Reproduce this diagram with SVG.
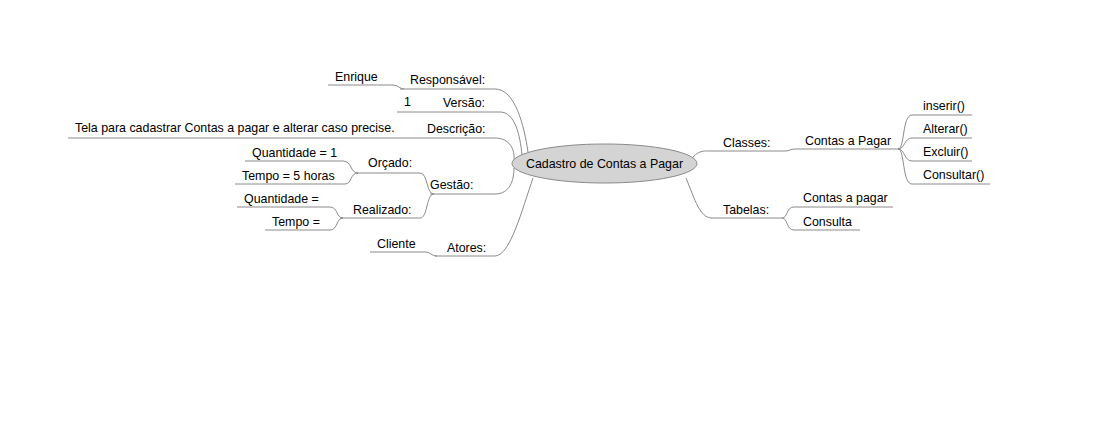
<svg xmlns="http://www.w3.org/2000/svg" width="1102" height="426" viewBox="0 0 1102 426">
<style>
text{font-family:"Liberation Sans",Arial,sans-serif;font-size:12.4px;fill:#000}
.c{fill:none;stroke:#8a8a8a;stroke-width:1}
</style>
<rect width="1102" height="426" fill="#fff"/>
<g id="connectors">
<path class="c" d="M400 89 L495 89 C515 89 524 125 528 152"/>
<path class="c" d="M437 112 L500 112 C515 112 520 135 522 155"/>
<path class="c" d="M68 138 L495 138 C510 138 515 150 514 160"/>
<path class="c" d="M430 194 L495 194 C510 194 514 180 514 168"/>
<path class="c" d="M435 256 L495 256 C510 256 522 210 533 178"/>
<path class="c" d="M328 85 L393 85 C398 85 400 89 404 89"/>
<path class="c" d="M397 112 L437 112"/>
<path class="c" d="M357 173 L420 173 C428 173 426 194 434 194"/>
<path class="c" d="M340 218 L420 218 C428 218 426 194 434 194"/>
<path class="c" d="M245 161 L343 161 C352 161 350 173 358 173"/>
<path class="c" d="M235 184 L345 184 C352 184 350 173 358 173"/>
<path class="c" d="M237 207 L330 207 C338 207 336 218 343 218"/>
<path class="c" d="M265 230 L330 230 C338 230 336 218 343 218"/>
<path class="c" d="M370 252 L425 252 C431 252 431 256 437 256"/>
<path class="c" d="M693 157 C700 150 704 151 712 151 L785 151 C790 151 790 149 795 149 L900 149"/>
<path class="c" d="M686 178 C695 200 700 218 712 218 L782 218"/>
<path class="c" d="M782 218 C788 218 786 207 794 207 L893 207"/>
<path class="c" d="M782 218 C788 218 786 230 794 230 L860 230"/>
<path class="c" d="M898 149 C905 149 902 115 912 115 L972 115"/>
<path class="c" d="M898 149 C905 149 904 138 912 138 L972 138"/>
<path class="c" d="M898 149 C905 149 904 161 912 161 L972 161"/>
<path class="c" d="M898 149 C905 149 902 184 912 184 L990 184"/>
</g>
<g id="root">
<ellipse cx="604.5" cy="163.5" rx="92.5" ry="19.5" fill="#d4d4d4" stroke="#8a8a8a" stroke-width="1"/>
<text x="604.5" y="168" text-anchor="middle">Cadastro de Contas a Pagar</text>
</g>
<g id="responsavel"><text x="410" y="84">Responsável:</text></g>
<g id="enrique"><text x="335" y="81">Enrique</text></g>
<g id="versao"><text x="443" y="107">Versão:</text></g>
<g id="v1"><text x="404" y="106">1</text></g>
<g id="descricao"><text x="427" y="133">Descrição:</text></g>
<g id="tela"><text x="75" y="132">Tela para cadastrar Contas a pagar e alterar caso precise.</text></g>
<g id="gestao"><text x="430" y="189">Gestão:</text></g>
<g id="orcado"><text x="368" y="167">Orçado:</text></g>
<g id="qtd1"><text x="252" y="157">Quantidade = 1</text></g>
<g id="tempo5"><text x="242" y="180">Tempo = 5 horas</text></g>
<g id="realizado"><text x="353" y="214">Realizado:</text></g>
<g id="qtd"><text x="244" y="203">Quantidade =</text></g>
<g id="tempo"><text x="272" y="226">Tempo =</text></g>
<g id="atores"><text x="447" y="252">Atores:</text></g>
<g id="cliente"><text x="377" y="248">Cliente</text></g>
<g id="classes"><text x="723" y="147">Classes:</text></g>
<g id="contasPagar"><text x="805" y="145">Contas a Pagar</text></g>
<g id="inserir"><text x="923" y="110">inserir()</text></g>
<g id="alterar"><text x="923" y="133">Alterar()</text></g>
<g id="excluir"><text x="923" y="156">Excluir()</text></g>
<g id="consultar"><text x="923" y="179">Consultar()</text></g>
<g id="tabelas"><text x="723" y="214">Tabelas:</text></g>
<g id="contasapagar"><text x="803" y="202">Contas a pagar</text></g>
<g id="consulta"><text x="803" y="226">Consulta</text></g>
</svg>
